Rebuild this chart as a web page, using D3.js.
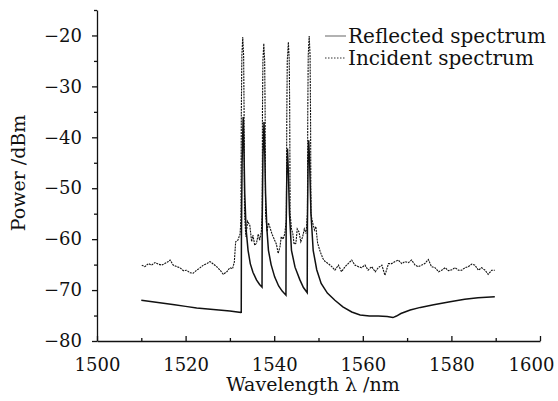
<!DOCTYPE html>
<html>
<head>
<meta charset="utf-8">
<script src="https://cdn.jsdelivr.net/npm/d3@7"></script>
<style>
  body { margin: 0; background: #fff; }
  text { font-family: "DejaVu Serif", serif; fill: #111; }
</style>
</head>
<body>
<div id="chart"></div>
<script>
// wavelength (nm), power (dBm)
const reflected = [
  [1510.0,-72.0],[1512.5,-72.3],[1515.0,-72.6],[1517.5,-72.9],[1520.0,-73.2],[1522.5,-73.5],
  [1525.0,-73.7],[1527.5,-73.9],[1530.0,-74.1],[1532.5,-74.4],[1532.56,-74.5],
  [1532.6,-60],[1532.75,-45],[1533.0,-36.0],[1533.15,-41],[1533.35,-51],[1533.65,-58],
  [1534.1,-62.2],[1534.6,-64.8],[1535.2,-66.5],[1536.0,-68.0],[1536.7,-68.9],[1537.25,-69.4],
  [1537.3,-56],[1537.45,-44],[1537.7,-37.0],[1537.85,-42],[1538.05,-51],[1538.35,-58],
  [1538.7,-62.2],[1539.3,-65.0],[1540.1,-67.4],[1541.0,-69.2],[1541.8,-70.2],[1542.65,-71.0],
  [1542.7,-58],[1542.85,-47],[1543.0,-42.2],[1543.2,-47],[1543.45,-55],[1543.9,-62.2],
  [1544.7,-65.5],[1545.8,-68.0],[1546.6,-69.5],[1547.45,-70.5],
  [1547.5,-57],[1547.65,-45],[1547.8,-40.6],[1548.0,-45],[1548.3,-55],[1548.8,-62.2],
  [1549.6,-66.0],[1550.6,-68.7],[1552.0,-70.6],[1553.7,-72.0],[1555.5,-73.3],[1557.5,-74.3],
  [1559.4,-74.9],[1561.5,-75.1],[1563.5,-75.1],[1565.5,-75.2],[1566.8,-75.4],[1567.6,-75.1],
  [1568.6,-74.6],[1570.7,-73.9],[1573.0,-73.4],[1576.0,-72.9],[1579.7,-72.3],[1583.0,-71.8],
  [1586.0,-71.5],[1589.8,-71.3]
];

const incident = [
  [1510.1,-65.1],[1510.8,-65.4],[1511.6,-64.8],[1512.3,-65.1],[1513.1,-64.6],[1513.8,-64.9],
  [1514.6,-65.1],[1515.3,-64.8],[1516.1,-64.4],[1516.5,-64.1],[1517.2,-65.1],[1518.0,-65.4],
  [1518.7,-65.6],[1519.5,-66.2],[1520.2,-66.1],[1521.0,-66.6],[1521.7,-66.7],[1522.5,-66.1],
  [1523.3,-65.6],[1524.0,-65.1],[1524.8,-64.8],[1525.5,-64.4],[1526.3,-64.9],[1527.0,-65.4],
  [1527.8,-66.1],[1528.5,-66.9],[1529.3,-66.4],[1530.0,-65.6],[1530.6,-65.8],[1531.0,-64.5],
  [1531.3,-60.5],[1531.8,-60.2],[1532.3,-59.0],[1532.5,-56],
  [1532.58,-35],[1532.7,-24],[1532.9,-20.3],[1533.1,-24],[1533.2,-35],[1533.3,-55],
  [1533.6,-59.5],[1534.0,-56.5],[1534.5,-57.3],[1534.9,-60.5],[1535.2,-59.2],[1535.6,-61.2],
  [1536.0,-60.8],[1536.4,-59.0],[1536.7,-60.2],[1537.1,-58.5],[1537.3,-55],
  [1537.35,-35],[1537.45,-25],[1537.65,-21.6],[1537.85,-25],[1537.95,-35],[1538.05,-55],
  [1538.4,-58.5],[1538.7,-56.8],[1539.0,-57.6],[1539.5,-59.0],[1540.1,-60.2],[1540.5,-61.0],
  [1540.9,-62.8],[1541.3,-61.5],[1541.6,-59.5],[1542.0,-60.0],[1542.4,-58.9],[1542.75,-56],
  [1542.85,-35],[1542.95,-25],[1543.2,-21.3],[1543.4,-25],[1543.5,-35],[1543.6,-55],
  [1543.9,-58.0],[1544.2,-58.9],[1544.5,-61.0],[1544.9,-60.8],[1545.2,-58.0],[1545.6,-58.6],
  [1546.0,-60.5],[1546.4,-59.6],[1546.8,-58.0],[1547.2,-58.9],[1547.5,-55],
  [1547.58,-35],[1547.68,-24],[1547.9,-20.1],[1548.1,-24],[1548.2,-35],[1548.3,-55],
  [1548.6,-56.5],[1549.1,-58.2],[1549.4,-57.5],[1549.8,-60.8],[1550.4,-62.5],[1551.0,-63.8],
  [1551.5,-64.4],[1552.2,-64.8],[1553.0,-65.4],[1553.7,-66.1],[1554.5,-65.1],[1555.2,-66.4],
  [1556.0,-65.4],[1556.7,-64.8],[1557.5,-64.1],[1558.2,-65.1],[1559.0,-65.4],[1559.7,-65.6],
  [1560.5,-65.1],[1561.2,-66.1],[1562.0,-65.4],[1562.8,-66.4],[1563.5,-65.6],[1564.3,-65.1],
  [1565.0,-67.1],[1565.8,-64.8],[1566.5,-64.8],[1567.3,-64.4],[1568.0,-64.1],[1568.8,-64.8],
  [1569.5,-64.4],[1570.3,-64.6],[1571.0,-64.1],[1571.8,-65.1],[1572.5,-65.4],[1573.3,-65.1],
  [1574.0,-64.8],[1574.8,-64.0],[1575.5,-65.4],[1576.3,-65.6],[1577.1,-66.4],[1577.8,-66.1],
  [1578.6,-65.6],[1579.3,-66.2],[1580.1,-66.0],[1580.8,-65.6],[1581.6,-66.1],[1582.3,-66.1],
  [1583.1,-65.6],[1583.8,-65.4],[1584.6,-64.9],[1585.3,-65.1],[1586.1,-66.1],[1586.8,-65.6],
  [1587.6,-66.1],[1588.3,-66.9],[1589.1,-66.1],[1589.8,-66.1]
];

const xTicks = [1500, 1520, 1540, 1560, 1580, 1600];
const yTicks = [-80, -70, -60, -50, -40, -30, -20];
const legendNames = ["Reflected spectrum", "Incident spectrum"];

const margin = {top: 10, right: 18, bottom: 60, left: 97};
const W = 558, H = 401;
const w = W - margin.left - margin.right;
const h = H - margin.top - margin.bottom;

let svg = d3.select("#chart")
  .append("svg")
    .attr("width", W)
    .attr("height", H)
  .append("g")
    .attr("transform", "translate(" + margin.left + "," + margin.top + ")");

let x = d3.scaleLinear().domain([1500, 1600]).range([0, w]);
let y = d3.scaleLinear().domain([-80, -15]).range([h, 0]);

draw();

function draw() {
  // minor ticks first, no labels
  svg.append("g")
    .attr("transform", "translate(0," + h + ")")
    .call(d3.axisBottom(x).tickValues(d3.range(1510, 1600, 20)).tickSizeInner(-3).tickSizeOuter(0).tickFormat(""))
    .call(g => g.select(".domain").remove());

  svg.append("g")
    .call(d3.axisLeft(y).tickValues(d3.range(-75, -10, 10)).tickSize(3).tickFormat(""))
    .call(g => g.select(".domain").remove());

  let xAxis = svg.append("g")
    .attr("class", "x axis")
    .attr("transform", "translate(0," + h + ")")
    .call(d3.axisBottom(x).tickValues(xTicks).tickSizeInner(-5).tickSizeOuter(0).tickPadding(17)
      .tickFormat(d3.format("d")));
  xAxis.selectAll("text").style("font-size", "18px");
  // last label would hang off the page, nudge it in
  xAxis.selectAll("text").filter(d => d == 1600).attr("dx", "-9");

  let yAxis = svg.append("g")
    .attr("class", "y axis")
    .call(d3.axisLeft(y).tickValues(yTicks).tickSizeInner(5).tickSizeOuter(0).tickPadding(10)
      .tickFormat(d => "\u2212" + Math.abs(d)));
  yAxis.selectAll("text").style("font-size", "18px");

  svg.selectAll(".domain, .tick line").attr("stroke", "#111").attr("stroke-width", 1.3);

  let line = d3.line().x(d => x(d[0])).y(d => y(d[1]));

  svg.append("path")
    .datum(incident)
    .attr("d", line)
    .attr("fill", "none")
    .attr("stroke", "#111")
    .attr("stroke-width", 1.1)
    .attr("stroke-dasharray", "2,0.9");

  svg.append("path")
    .datum(reflected)
    .attr("d", line)
    .attr("fill", "none")
    .attr("stroke", "#111")
    .attr("stroke-width", 1.5);

  // axis titles
  svg.append("text")
    .attr("x", 216)
    .attr("y", 381)
    .attr("text-anchor", "middle")
    .style("font-size", "19px")
    .text("Wavelength \u03bb /nm");

  svg.append("text")
    .attr("transform", "translate(-72," + 163 + ") rotate(-90)")
    .attr("text-anchor", "middle")
    .style("font-size", "19px")
    .text("Power /dBm");

  // legend
  let lg = svg.selectAll(".legend")
    .data(legendNames)
    .enter()
    .append("g")
    .attr("class", "legend")
    .attr("transform", (d, i) => "translate(" + 228 + "," + (26 + i * 22) + ")");

  lg.append("line")
    .attr("x1", 0).attr("x2", 21)
    .attr("y1", 0).attr("y2", 0)
    .attr("stroke", (d, i) => i == 0 ? "#999" : "#333")
    .attr("stroke-width", (d, i) => i == 0 ? 1.5 : 1)
    .attr("stroke-dasharray", (d, i) => i == 0 ? null : "1.5,1.5");

  lg.append("text")
    .attr("x", 23)
    .attr("y", 7)
    .style("font-size", "20px")
    .text(d => d);
}
</script>
</body>
</html>
